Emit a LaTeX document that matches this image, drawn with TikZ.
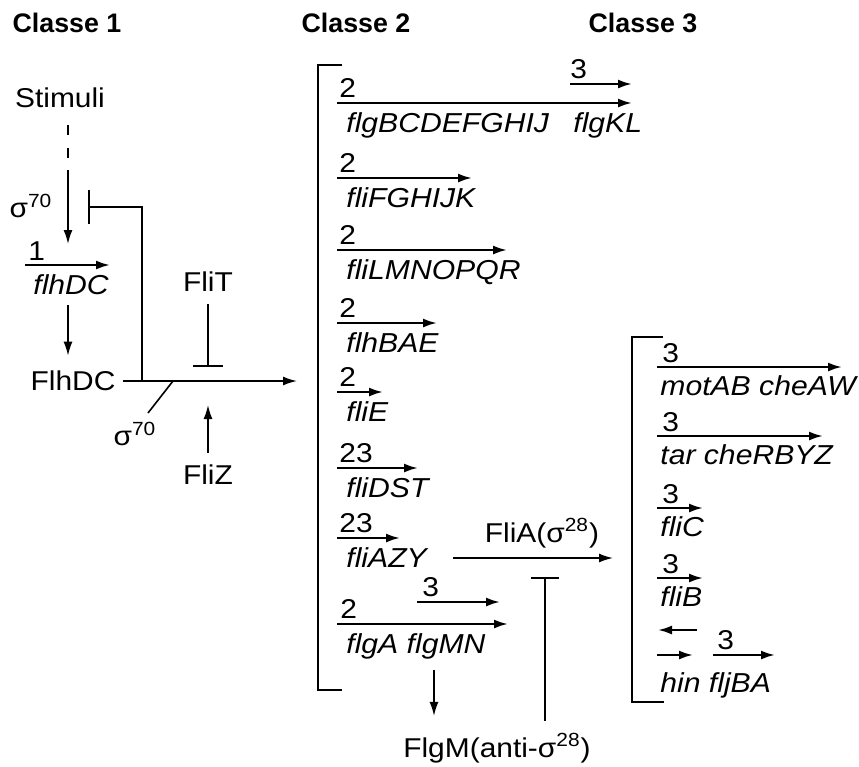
\documentclass[tikz,border=0pt]{standalone}
\usepackage{fontspec}
\setmainfont{Liberation Sans}[FakeStretch=1.1]
\newfontfamily\headfont{Liberation Sans}
\usetikzlibrary{arrows.meta}
\newcommand{\sigm}[1]{σ\textsuperscript{#1}}
\tikzset{
  lbl/.style={font=\fontsize{13.6}{15}\selectfont, inner sep=0pt},
  head/.style={font=\headfont\fontsize{13.4}{15}\selectfont\bfseries, inner sep=0pt},
  gene/.style={font=\fontsize{13.7}{15}\selectfont\itshape, inner sep=0pt, anchor=north west},
  num/.style={lbl, anchor=south west},
  tx/.style={line width=1.1pt, -{Latex[length=7pt,width=4.5pt]}},
  act/.style={line width=0.8pt, -{Latex[length=7pt,width=4.5pt]}},
  inh/.style={line width=0.8pt, -{Bar[width=#1]}},
  brk/.style={line width=0.9pt},
}
\begin{document}
\begin{tikzpicture}[x=0.5pt,y=-0.5pt]
  \useasboundingbox (0,0) rectangle (859,767);
  \node[head] (c1) at (67,23) {Classe 1};
  \node[head] (c2) at (356,23) {Classe 2};
  \node[head] (c3) at (643,23) {Classe 3};

  \node[lbl] (stim) at (60,98) {Stimuli};
  \coordinate (d0) at (68,125);
  \coordinate (d1) at (68,170);
  \coordinate (d2) at (68,244);
  \draw[line width=0.8pt, dash pattern=on 5pt off 6.5pt] (d0) -- (d1);
  \draw[act] (d1) -- (d2);
  \node[lbl] (s70a) at (31,206) {\sigm{70}};
  \node[num] (n1) at (28,261) {1};
  \coordinate (g1s) at (25,265);
  \coordinate (g1e) at (110,265);
  \draw[tx] (g1s) -- (g1e);
  \node[gene] (flhdc) at (33,274) {flhDC};
  \node[lbl] (FlhDC) at (73,381) {FlhDC};
  \draw[act, shorten <=5pt, shorten >=7.5pt] (d0 |- flhdc.south) -- (d0 |- FlhDC.north);
  \coordinate (m1) at (297,381);
  \draw[act, shorten <=3.5pt] (FlhDC.east) -- (m1);
  \coordinate (hb) at (142,381);
  \coordinate (ib) at (88,207);
  \draw[inh=17pt] (hb) |- (ib);
  \coordinate (sl) at (173,381);
  \coordinate (slb) at (148,413);
  \draw[line width=0.8pt] (sl) -- (slb);
  \node[lbl] (s70b) at (135,434) {\sigm{70}};
  \node[lbl] (FliT) at (208,282) {FliT};
  \coordinate (tb) at (208,367);
  \draw[inh=15pt, shorten <=6pt] (FliT) -- (tb);
  \node[lbl] (FliZ) at (208,475) {FliZ};
  \coordinate (zt) at (208,405);
  \draw[act, shorten <=6pt] (FliZ) -- (zt);

  \draw[brk] (342,65) -- (318,65) -- (318,690) -- (342,690);
  \coordinate (fs) at (337,103);
  \coordinate (fe) at (632,103);
  \draw[tx] (fs) -- (fe);
  \node[num] (fn) at (339,98) {2};
  \coordinate (ks) at (570,84);
  \coordinate (ke) at (632,84);
  \draw[tx] (ks) -- (ke);
  \node[num] (kn) at (570,79) {3};
  \node[gene] (flg) at (346,112) {flgBCDEFGHIJ};
  \node[gene] (flgKL) at (573,112) {flgKL};
  \foreach \y/\xe/\n/\g [count=\i] in {178/472/2/fliFGHIJK, 250/507/2/fliLMNOPQR,
      323/437/2/flhBAE, 392/383/2/fliE, 468/418/23/fliDST, 538/400/23/fliAZY}{
    \coordinate (bs\i) at (337,\y);
    \coordinate (be\i) at (\xe,\y);
    \draw[tx] (bs\i) -- (be\i);
    \node[num] (bn\i) at (339,\y-5) {\n};
    \node[gene] (bg\i) at (346,\y+9) {\g};
  }
  \coordinate (as) at (337,624);
  \coordinate (ae) at (508,624);
  \draw[tx] (as) -- (ae);
  \node[num] (an) at (340,619) {2};
  \coordinate (ms) at (417,602);
  \coordinate (me) at (500,602);
  \draw[tx] (ms) -- (me);
  \node[num] (mn) at (422,597) {3};
  \node[gene] (flgA) at (346,633) {flgA flgMN};
  \node[lbl] (FlgM) at (497,748) {FlgM(anti-\sigm{28})};
  \coordinate (fm1) at (434,670);
  \draw[act, shorten >=8.5pt] (fm1) -- (fm1 |- FlgM.north);
  \node[lbl] (FliA) at (542,533) {FliA(\sigm{28})};
  \coordinate (fa1) at (453,558);
  \coordinate (fa2) at (613,558);
  \draw[act] (fa1) -- (fa2);
  \coordinate (ib2) at (545,577);
  \draw[inh=14pt, shorten <=6pt] (FlgM.north -| ib2) -- (ib2);

  \draw[brk] (663,337) -- (632,337) -- (632,702) -- (664,702);
  \foreach \y/\xe/\g [count=\i] in {367/842/motAB cheAW, 436/823/tar cheRBYZ,
      508/703/fliC, 578/703/fliB}{
    \coordinate (cs\i) at (657,\y);
    \coordinate (ce\i) at (\xe,\y);
    \draw[tx] (cs\i) -- (ce\i);
    \node[num] (cn\i) at (662,\y-4) {3};
    \node[gene] (cg\i) at (660,\y+8) {\g};
  }
  \coordinate (hl1) at (697,630);
  \coordinate (hl2) at (658,630);
  \draw[tx] (hl1) -- (hl2);
  \coordinate (hr1) at (657,655);
  \coordinate (hr2) at (693,655);
  \draw[tx] (hr1) -- (hr2);
  \coordinate (js) at (713,655);
  \coordinate (je) at (775,655);
  \draw[tx] (js) -- (je);
  \node[num] (jn) at (717,650) {3};
  \node[gene] (hin) at (660,672) {hin fljBA};
\end{tikzpicture}
\end{document}
